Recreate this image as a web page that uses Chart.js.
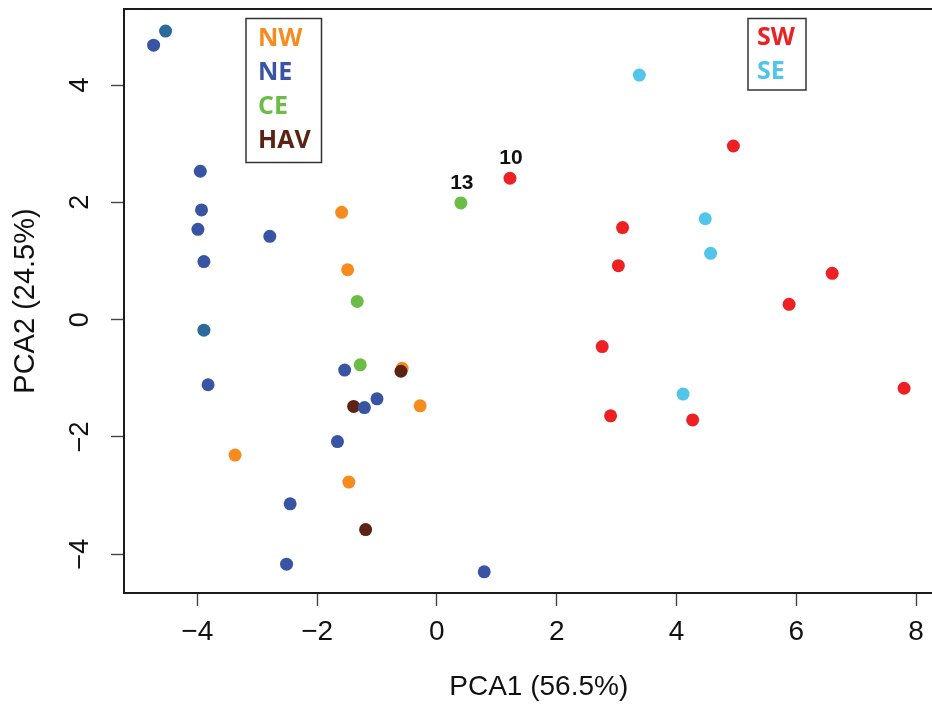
<!DOCTYPE html>
<html>
<head>
<meta charset="utf-8">
<title>PCA</title>
<script src="https://cdn.jsdelivr.net/npm/chart.js@4.4.1/dist/chart.umd.min.js"></script>
<style>
  html, body { margin: 0; padding: 0; background: #fff; overflow: hidden; }
</style>
</head>
<body>
<!-- canvas runs a little past the window so the plot box's right side is cut off, as in the figure -->
<canvas id="pca" width="960" height="707"></canvas>
<script>
// PCA scores, one pair of arrays per region
const NE_PCA1 = [-4.73, -3.95, -3.93, -3.99, -2.79, -3.89, -3.82, -1.54, -1.00, -1.21, -1.66, -2.45, -2.51, 0.79];
const NE_PCA2 = [4.68, 2.53, 1.87, 1.54, 1.42, 0.99, -1.11, -0.86, -1.35, -1.50, -2.08, -3.14, -4.17, -4.30];
// two NE samples printed in a darker teal-blue
const NE2_PCA1 = [-4.53, -3.89];
const NE2_PCA2 = [4.92, -0.18];
const HAV_PCA1 = [-0.60, -1.39, -1.19];
const HAV_PCA2 = [-0.88, -1.48, -3.58];
const CE_PCA1 = [-1.33, -1.28, 0.40];
const CE_PCA2 = [0.31, -0.77, 1.99];
const CE_LABELS = ['', '', '13'];
const NW_PCA1 = [-1.59, -1.49, -0.58, -0.28, -3.37, -1.47];
const NW_PCA2 = [1.83, 0.85, -0.83, -1.47, -2.31, -2.77];
const SE_PCA1 = [3.38, 4.48, 4.57, 4.11];
const SE_PCA2 = [4.17, 1.72, 1.13, -1.27];
const SW_PCA1 = [1.22, 4.95, 3.10, 3.03, 6.60, 5.88, 2.76, 7.80, 2.90, 4.27];
const SW_PCA2 = [2.41, 2.96, 1.57, 0.92, 0.79, 0.26, -0.46, -1.17, -1.64, -1.71];
const SW_LABELS = ['10', '', '', '', '', '', '', '', '', ''];

const xTicks = [-4, -2, 0, 2, 4, 6, 8];
const yTicks = [-4, -2, 0, 2, 4];
const leftLegend = ['NW', 'NE', 'CE', 'HAV'];
const rightLegend = ['SW', 'SE'];

const colors = {
  NW: '#f68b1f',
  NE: '#3a54a4',
  NE2: '#2b6a9c',
  CE: '#6bbd45',
  HAV: '#5a2313',
  SW: '#ed2024',
  SE: '#52c5eb'
};

function pts(xs, ys) {
  return xs.map((x, i) => ({ x: x, y: ys[i] }));
}

function dataset(name, xs, ys, labels) {
  return {
    label: name,
    data: pts(xs, ys),
    pointLabels: labels || null,
    backgroundColor: colors[name],
    borderWidth: 0,
    pointRadius: 6.5,
    pointHoverRadius: 6.5
  };
}

const fontFamily = "'Liberation Sans', Arial, Helvetica, sans-serif";
const minus = v => (v < 0 ? '\u2212' + Math.abs(v) : String(v));

// keep the plot box where the reference has it: no extra room for overhanging labels
function noOverhang(s) {
  s.paddingTop = 0;
  s.paddingBottom = 0;
  s.paddingLeft = 0;
  s.paddingRight = 0;
}

// box around the plot region
const framePlugin = {
  id: 'frame',
  beforeDatasetsDraw(chart) {
    const { ctx, chartArea: a } = chart;
    ctx.save();
    ctx.strokeStyle = '#1a1a1a';
    ctx.lineWidth = 2;
    ctx.strokeRect(a.left, a.top, a.right - a.left, a.bottom - a.top);
    ctx.restore();
  }
};

// sample numbers above two points
const pointLabelPlugin = {
  id: 'pointLabels',
  afterDatasetsDraw(chart) {
    const ctx = chart.ctx;
    ctx.save();
    ctx.font = "bold 21px 'Liberation Sans', Arial, sans-serif";
    ctx.fillStyle = '#111';
    ctx.textAlign = 'center';
    ctx.textBaseline = 'middle';
    chart.data.datasets.forEach((ds, i) => {
      if (!ds.pointLabels) return;
      chart.getDatasetMeta(i).data.forEach((el, j) => {
        const t = ds.pointLabels[j];
        if (t) ctx.fillText(t, el.x + 1, el.y - 20);
      });
    });
    ctx.restore();
  }
};

// the two boxed legends with coloured names
const legendPlugin = {
  id: 'boxLegends',
  afterDraw(chart) {
    const ctx = chart.ctx;
    const drawBox = (names, x0, y0, w, h, tx, ty, step) => {
      ctx.save();
      ctx.fillStyle = '#fff';
      ctx.fillRect(x0, y0, w, h);
      ctx.strokeStyle = '#333';
      ctx.lineWidth = 1.5;
      ctx.strokeRect(x0, y0, w, h);
      ctx.font = "bold 25px 'Open Sans', 'Liberation Sans', sans-serif";
      ctx.textAlign = 'left';
      ctx.textBaseline = 'middle';
      names.forEach((n, i) => {
        ctx.fillStyle = colors[n];
        ctx.fillText(n, tx, ty + i * step);
      });
      ctx.restore();
    };
    drawBox(leftLegend, 246, 18.5, 75.5, 144, 258, 38.5, 34);
    drawBox(rightLegend, 748, 18.5, 58, 71.5, 757, 38, 34.3);
  }
};

new Chart(document.getElementById('pca'), {
  type: 'scatter',
  data: {
    datasets: [
      dataset('NE', NE_PCA1, NE_PCA2),
      dataset('NE2', NE2_PCA1, NE2_PCA2),
      dataset('HAV', HAV_PCA1, HAV_PCA2),
      dataset('CE', CE_PCA1, CE_PCA2, CE_LABELS),
      dataset('NW', NW_PCA1, NW_PCA2),
      dataset('SE', SE_PCA1, SE_PCA2),
      dataset('SW', SW_PCA1, SW_PCA2, SW_LABELS)
    ]
  },
  options: {
    responsive: false,
    animation: false,
    layout: { padding: { top: 9, right: 0, bottom: 0, left: 0 } },
    plugins: {
      legend: { display: false },
      tooltip: { enabled: false }
    },
    scales: {
      x: {
        type: 'linear',
        min: -5.224,
        max: 8.625,
        afterBuildTicks: s => { s.ticks = xTicks.map(v => ({ value: v })); },
        afterFit: s => { s.height = 114; noOverhang(s); },
        grid: {
          drawOnChartArea: false,
          drawTicks: true,
          tickLength: 13,
          tickColor: '#444',
          tickWidth: 1.4
        },
        border: { display: false },
        ticks: {
          color: '#111',
          padding: 9,
          font: { family: fontFamily, size: 28 },
          maxRotation: 0,
          callback: minus
        },
        title: {
          display: true,
          text: 'PCA1 (56.5%)',
          color: '#111',
          font: { family: fontFamily, size: 28 },
          padding: { top: 0, bottom: 3 }
        }
      },
      y: {
        type: 'linear',
        min: -4.661,
        max: 5.296,
        afterBuildTicks: s => { s.ticks = yTicks.map(v => ({ value: v })); },
        afterFit: s => { s.width = 124; noOverhang(s); },
        grid: {
          drawOnChartArea: false,
          drawTicks: true,
          tickLength: 13,
          tickColor: '#444',
          tickWidth: 1.4
        },
        border: { display: false },
        ticks: {
          color: '#111',
          padding: 15,
          crossAlign: 'center',
          minRotation: 90,
          maxRotation: 90,
          font: { family: fontFamily, size: 27 },
          callback: minus
        },
        title: {
          display: true,
          text: 'PCA2 (24.5%)',
          color: '#111',
          font: { family: fontFamily, size: 29 },
          padding: { top: 9, bottom: 0 }
        }
      }
    }
  },
  plugins: [framePlugin, pointLabelPlugin, legendPlugin]
});
</script>
</body>
</html>
